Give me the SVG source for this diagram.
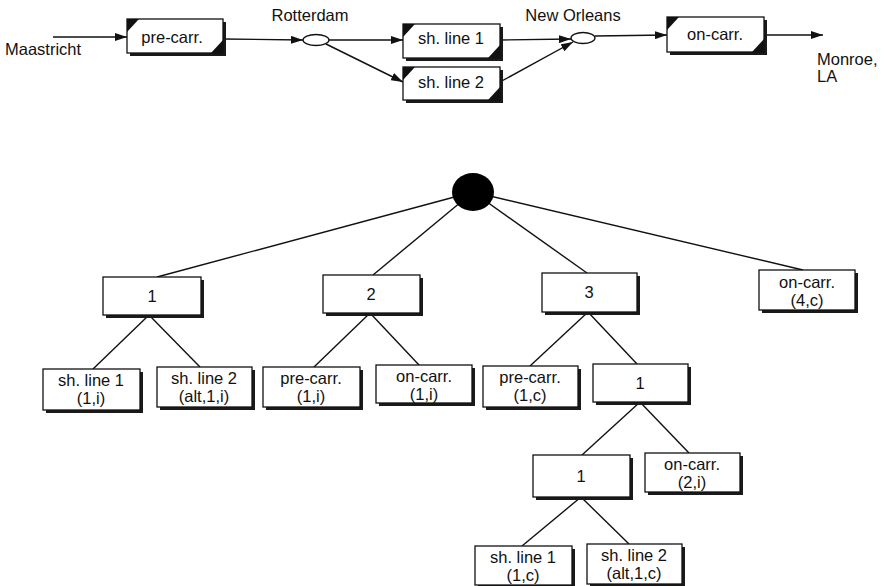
<svg xmlns="http://www.w3.org/2000/svg" width="890" height="586" viewBox="0 0 890 586">
  <style>
    text { font-family: "Liberation Sans", Arial, sans-serif; font-size: 16.5px; fill: #111; }
    .c { text-anchor: middle; }
    .box { fill: #fff; stroke: #111; stroke-width: 1.3; }
    .shadow { fill: #1a1a1a; }
    .edge { stroke: #111; stroke-width: 1.4; fill: none; }
    .arrow { stroke: #111; stroke-width: 1.4; fill: none; marker-end: url(#head); }
    .corner { fill: #111; }
    .stop { fill: #fff; stroke: #111; stroke-width: 1.3; }
  </style>
  <defs>
    <marker id="head" viewBox="0 0 12 8" refX="12" refY="4" markerWidth="12" markerHeight="8" markerUnits="userSpaceOnUse" orient="auto">
      <path d="M0,0 L12,4 L0,8 Z" fill="#111"/>
    </marker>
  </defs>

  <!-- route: transport chain -->
  <g id="route-connectors">
    <line class="arrow" x1="53" y1="37" x2="127" y2="37"/>
    <line class="arrow" x1="223" y1="39" x2="303" y2="40"/>
    <line class="arrow" x1="329" y1="40" x2="403" y2="40"/>
    <line class="arrow" x1="326" y1="44" x2="403" y2="82"/>
    <line class="arrow" x1="500" y1="40" x2="571" y2="39"/>
    <line class="arrow" x1="500" y1="82" x2="573" y2="42"/>
    <line class="arrow" x1="595" y1="36" x2="667" y2="35"/>
    <line class="arrow" x1="764" y1="35" x2="823" y2="35"/>
  </g>

  <g id="maastricht"><text x="5" y="55">Maastricht</text></g>

  <g id="leg-pre-carr">
    <rect class="shadow" x="130" y="22" width="96" height="34"/>
    <rect class="box" x="127" y="19" width="96" height="34"/>
    <path class="corner" d="M127,19 h12 l-12,13 Z"/>
    <path class="corner" d="M223,53 h-12 l12,-13 Z"/>
    <text class="c" x="172" y="43">pre-carr.</text>
  </g>

  <g id="rotterdam">
    <text class="c" x="310" y="21">Rotterdam</text>
    <ellipse class="stop" cx="316" cy="40" rx="13" ry="5.5"/>
  </g>

  <g id="leg-sh-line-1">
    <rect class="shadow" x="406" y="27" width="97" height="34"/>
    <rect class="box" x="403" y="24" width="97" height="34"/>
    <path class="corner" d="M403,24 h12 l-12,13 Z"/>
    <path class="corner" d="M500,58 h-12 l12,-13 Z"/>
    <text class="c" x="451" y="44">sh. line 1</text>
  </g>

  <g id="leg-sh-line-2">
    <rect class="shadow" x="406" y="70" width="97" height="33"/>
    <rect class="box" x="403" y="67" width="97" height="33"/>
    <path class="corner" d="M403,67 h12 l-12,13 Z"/>
    <path class="corner" d="M500,100 h-12 l12,-13 Z"/>
    <text class="c" x="451" y="88">sh. line 2</text>
  </g>

  <g id="new-orleans">
    <text class="c" x="573" y="21">New Orleans</text>
    <ellipse class="stop" cx="583" cy="38" rx="12" ry="5.5"/>
  </g>

  <g id="leg-on-carr">
    <rect class="shadow" x="670" y="20" width="97" height="35"/>
    <rect class="box" x="667" y="17" width="97" height="35"/>
    <path class="corner" d="M667,17 h12 l-12,13 Z"/>
    <path class="corner" d="M764,52 h-12 l12,-13 Z"/>
    <text class="c" x="715" y="40">on-carr.</text>
  </g>

  <g id="monroe">
    <text x="817" y="65">Monroe,</text>
    <text x="817" y="82">LA</text>
  </g>

  <!-- decomposition tree -->
  <g id="tree-connectors">
    <line class="edge" x1="473" y1="192" x2="157" y2="277"/>
    <line class="edge" x1="473" y1="192" x2="373" y2="275"/>
    <line class="edge" x1="473" y1="192" x2="587" y2="273"/>
    <line class="edge" x1="473" y1="192" x2="803" y2="270"/>
    <line class="edge" x1="149" y1="315" x2="93" y2="369"/>
    <line class="edge" x1="149" y1="315" x2="200" y2="367"/>
    <line class="edge" x1="370" y1="313" x2="314" y2="367"/>
    <line class="edge" x1="370" y1="313" x2="419" y2="365"/>
    <line class="edge" x1="588" y1="312" x2="530" y2="366"/>
    <line class="edge" x1="588" y1="312" x2="637" y2="364"/>
    <line class="edge" x1="640" y1="402" x2="582" y2="455"/>
    <line class="edge" x1="640" y1="402" x2="689" y2="453"/>
    <line class="edge" x1="581" y1="497" x2="522" y2="546"/>
    <line class="edge" x1="581" y1="497" x2="629" y2="544"/>
  </g>

  <g id="root"><ellipse cx="473" cy="192" rx="21" ry="19" fill="#000"/></g>

  <g id="t-1">
    <rect class="shadow" x="106" y="280" width="98" height="38"/>
    <rect class="box" x="103" y="277" width="98" height="38"/>
    <text class="c" x="152" y="302">1</text>
  </g>
  <g id="t-2">
    <rect class="shadow" x="326" y="278" width="97" height="38"/>
    <rect class="box" x="323" y="275" width="97" height="38"/>
    <text class="c" x="371" y="300">2</text>
  </g>
  <g id="t-3">
    <rect class="shadow" x="545" y="276" width="95" height="39"/>
    <rect class="box" x="542" y="273" width="95" height="39"/>
    <text class="c" x="589" y="298">3</text>
  </g>
  <g id="t-on-carr-4c">
    <rect class="shadow" x="762" y="273" width="96" height="40"/>
    <rect class="box" x="759" y="270" width="96" height="40"/>
    <text class="c" x="807" y="288">on-carr.</text>
    <text class="c" x="807" y="306">(4,c)</text>
  </g>

  <g id="t-1-sh-line-1">
    <rect class="shadow" x="46" y="372" width="97" height="41"/>
    <rect class="box" x="43" y="369" width="97" height="41"/>
    <text class="c" x="91" y="386">sh. line 1</text>
    <text class="c" x="91" y="404">(1,i)</text>
  </g>
  <g id="t-1-sh-line-2">
    <rect class="shadow" x="160" y="370" width="95" height="40"/>
    <rect class="box" x="157" y="367" width="95" height="40"/>
    <text class="c" x="204" y="384">sh. line 2</text>
    <text class="c" x="204" y="402">(alt,1,i)</text>
  </g>
  <g id="t-2-pre-carr">
    <rect class="shadow" x="266" y="370" width="97" height="40"/>
    <rect class="box" x="263" y="367" width="97" height="40"/>
    <text class="c" x="311" y="384">pre-carr.</text>
    <text class="c" x="311" y="402">(1,i)</text>
  </g>
  <g id="t-2-on-carr">
    <rect class="shadow" x="379" y="368" width="96" height="38"/>
    <rect class="box" x="376" y="365" width="96" height="38"/>
    <text class="c" x="424" y="382">on-carr.</text>
    <text class="c" x="424" y="400">(1,i)</text>
  </g>
  <g id="t-3-pre-carr">
    <rect class="shadow" x="486" y="369" width="95" height="41"/>
    <rect class="box" x="483" y="366" width="95" height="41"/>
    <text class="c" x="530" y="383">pre-carr.</text>
    <text class="c" x="530" y="401">(1,c)</text>
  </g>
  <g id="t-3-1">
    <rect class="shadow" x="596" y="367" width="95" height="38"/>
    <rect class="box" x="593" y="364" width="95" height="38"/>
    <text class="c" x="640" y="389">1</text>
  </g>
  <g id="t-3-1-1">
    <rect class="shadow" x="536" y="458" width="97" height="42"/>
    <rect class="box" x="533" y="455" width="97" height="42"/>
    <text class="c" x="581" y="482">1</text>
  </g>
  <g id="t-3-1-on-carr">
    <rect class="shadow" x="648" y="456" width="95" height="39"/>
    <rect class="box" x="645" y="453" width="95" height="39"/>
    <text class="c" x="692" y="470">on-carr.</text>
    <text class="c" x="692" y="488">(2,i)</text>
  </g>
  <g id="t-3-1-1-sh-line-1">
    <rect class="shadow" x="478" y="549" width="97" height="39"/>
    <rect class="box" x="475" y="546" width="97" height="39"/>
    <text class="c" x="523" y="563">sh. line 1</text>
    <text class="c" x="523" y="581">(1,c)</text>
  </g>
  <g id="t-3-1-1-sh-line-2">
    <rect class="shadow" x="590" y="547" width="95" height="40"/>
    <rect class="box" x="587" y="544" width="95" height="40"/>
    <text class="c" x="634" y="561">sh. line 2</text>
    <text class="c" x="634" y="579">(alt,1,c)</text>
  </g>
</svg>
